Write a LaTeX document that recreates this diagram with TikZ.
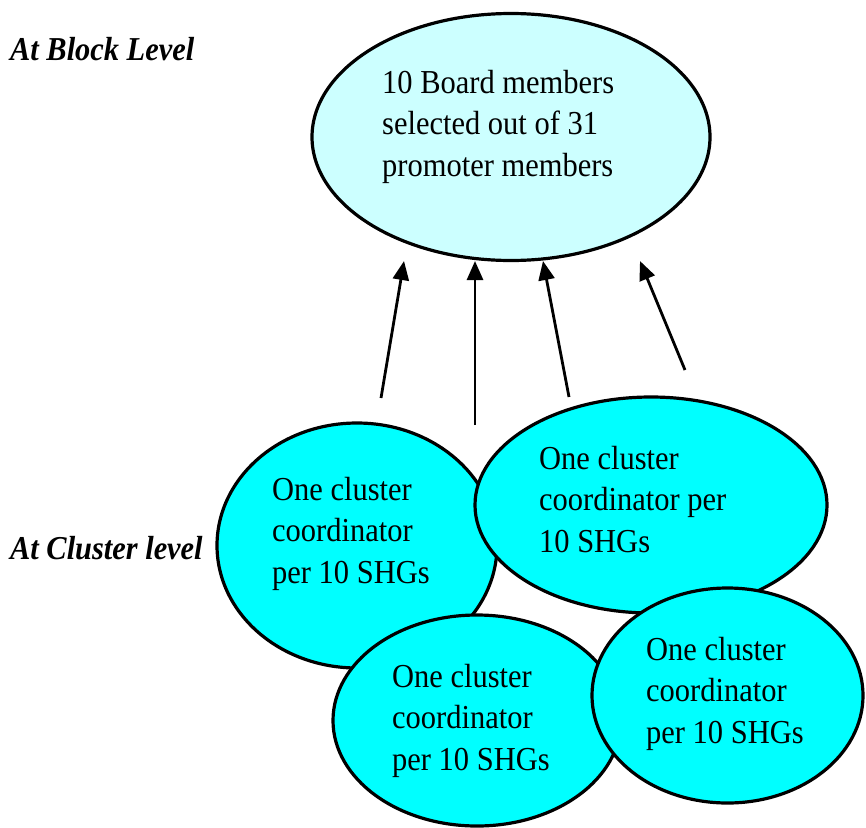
\documentclass[tikz,border=0pt]{standalone}
\usepackage{fontspec}
\setmainfont{Liberation Serif}[FakeStretch=0.91]
\usetikzlibrary{shapes.geometric,arrows.meta}
\definecolor{lightcyan}{RGB}{204,255,255}
\definecolor{brightcyan}{RGB}{0,255,255}
\tikzset{
  blob/.style={ellipse, draw=black, line width=3.2pt, inner sep=0pt},
  topblob/.style={blob, fill=lightcyan},
  clusterblob/.style={blob, fill=brightcyan},
  txt/.style={anchor=base west, inner sep=0pt, align=left,
    font=\fontsize{33.5}{41.5}\selectfont},
  levellabel/.style={anchor=base west, inner sep=0pt,
    font=\fontsize{33.4}{38}\selectfont\bfseries\itshape},
  uparrow/.style={line width=2.8pt, -{Triangle[length=19pt,width=16pt]}}
}
\begin{document}
\begin{tikzpicture}[x=1pt,y=-1pt]
\useasboundingbox (0,0) rectangle (866,827);

\node[levellabel] (lblock) at (10,60) {At Block Level};
\node[levellabel] (lcluster) at (10,559) {At Cluster level};

\node[topblob, minimum width=398pt, minimum height=247pt] (board) at (511,137) {};
\node[txt] (tboard) at (382,176) {10 Board members\\selected out of 31\\promoter members};

\node[clusterblob, minimum width=280pt, minimum height=245pt] (c1) at (357,545.5) {};
\node[txt] (t1) at (272,583) {One cluster\\coordinator\\per 10 SHGs};

\node[clusterblob, minimum width=352pt, minimum height=216pt] (c2) at (651,505) {};
\node[txt] (t2) at (539,552) {One cluster\\coordinator per\\10 SHGs};

\node[clusterblob, minimum width=288pt, minimum height=211pt] (c3) at (477,720.5) {};
\node[txt] (t3) at (392,770) {One cluster\\coordinator\\per 10 SHGs};

\node[clusterblob, minimum width=271pt, minimum height=215pt] (c4) at (727.5,695.5) {};
\node[txt] (t4) at (646,743) {One cluster\\coordinator\\per 10 SHGs};

\coordinate (s1) at (381,398);
\coordinate (e1) at (404,261);
\coordinate (s2) at (475,425);
\coordinate (e2) at (475,261);
\coordinate (s3) at (569,397);
\coordinate (e3) at (543,261);
\coordinate (s4) at (685,370);
\coordinate (e4) at (640,261);
\draw[uparrow] (s1) -- (e1);
\draw[uparrow] (s2) -- (e2);
\draw[uparrow] (s3) -- (e3);
\draw[uparrow] (s4) -- (e4);
\end{tikzpicture}
\end{document}
